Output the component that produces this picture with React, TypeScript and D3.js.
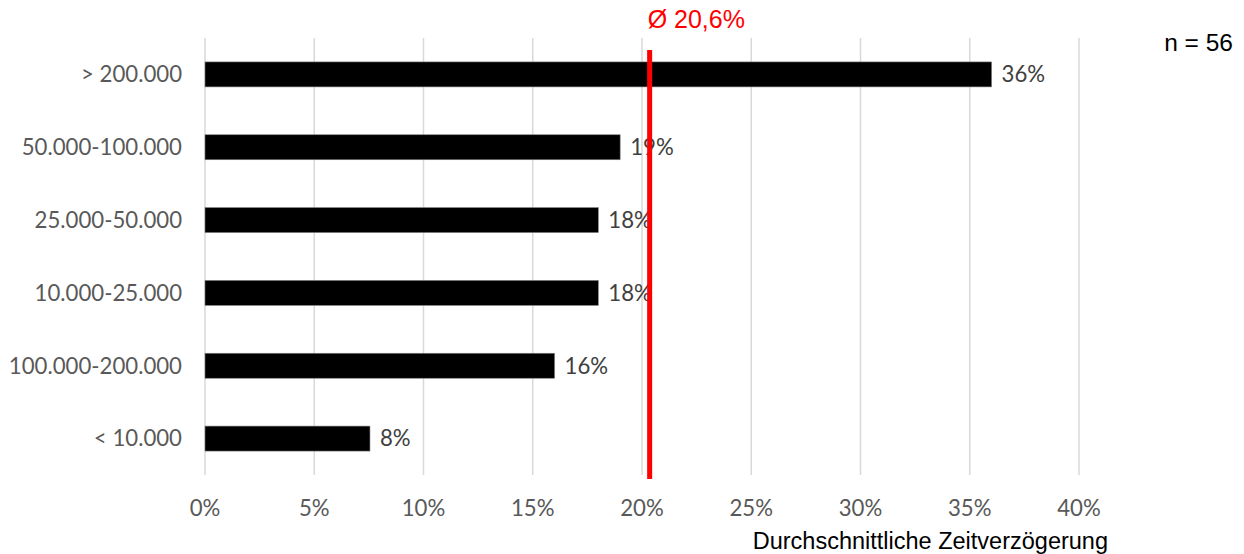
import React from "react";
import * as d3 from "d3";

const categories = ["> 200.000", "50.000-100.000", "25.000-50.000", "10.000-25.000", "100.000-200.000", "< 10.000"];
const values = [36.0, 19.0, 18.0, 18.0, 16.0, 7.55];
const valueLabels = ["36%", "19%", "18%", "18%", "16%", "8%"];
const xTicks = [0, 5, 10, 15, 20, 25, 30, 35, 40];
const averageValue = 20.35;
const averageLabel = "Ø 20,6%";
const sampleLabel = "n = 56";
const axisTitle = "Durchschnittliche Zeitverzögerung";

const W = 1244;
const H = 554;

export default function App() {
  const x = d3.scaleLinear().domain([0, 40]).range([205, 1079]);
  const y = d3
    .scaleBand<string>()
    .domain(categories)
    .range([38, 475])
    .paddingInner(0.657)
    .paddingOuter(0.3285);
  const labelFont = "Lato, 'Open Sans', sans-serif";
  const arial = "'Liberation Sans', Arial, sans-serif";
  const fs = 22.2;
  return (
    <svg
      width={W}
      height={H}
      style={{ position: "absolute", left: 0, top: 0, background: "#fff" }}
    >
      {xTicks.map((t) => (
        <line
          key={"g" + t}
          x1={x(t)}
          x2={x(t)}
          y1={38}
          y2={475}
          stroke="#d9d9d9"
          strokeWidth={1.5}
        />
      ))}
      {xTicks.map((t) => (
        <text
          key={"t" + t}
          x={x(t)}
          y={516}
          textAnchor="middle"
          fontFamily={labelFont}
          fontSize={fs}
          fill="#595959"
        >
          {t + "%"}
        </text>
      ))}
      {categories.map((c, i) => (
        <g key={c}>
          <rect
            x={x(0)}
            y={y(c)!}
            width={x(values[i]) - x(0)}
            height={y.bandwidth()}
            fill="#000"
            stroke="#7f7f7f"
            strokeWidth={0.6}
          />
          <text
            x={182}
            y={y(c)! + y.bandwidth() / 2}
            dy="0.35em"
            textAnchor="end"
            fontFamily={labelFont}
            fontSize={fs}
            fill="#595959"
          >
            {c}
          </text>
          <text
            x={x(values[i]) + 10}
            y={y(c)! + y.bandwidth() / 2}
            dy="0.35em"
            textAnchor="start"
            fontFamily={labelFont}
            fontSize={fs}
            fill="#404040"
          >
            {valueLabels[i]}
          </text>
        </g>
      ))}
      <line
        x1={x(averageValue)}
        x2={x(averageValue)}
        y1={50}
        y2={479}
        stroke="#ff0000"
        strokeWidth={5}
      />
      <text
        x={x(averageValue) - 2}
        y={28}
        textAnchor="start"
        fontFamily={arial}
        fontSize={25}
        fill="#ff0000"
      >
        {averageLabel}
      </text>
      <text
        x={1233}
        y={51}
        textAnchor="end"
        fontFamily={arial}
        fontSize={24.5}
        fill="#000"
      >
        {sampleLabel}
      </text>
      <text
        x={1108}
        y={549}
        textAnchor="end"
        fontFamily={arial}
        fontSize={23.5}
        fill="#000"
      >
        {axisTitle}
      </text>
    </svg>
  );
}
